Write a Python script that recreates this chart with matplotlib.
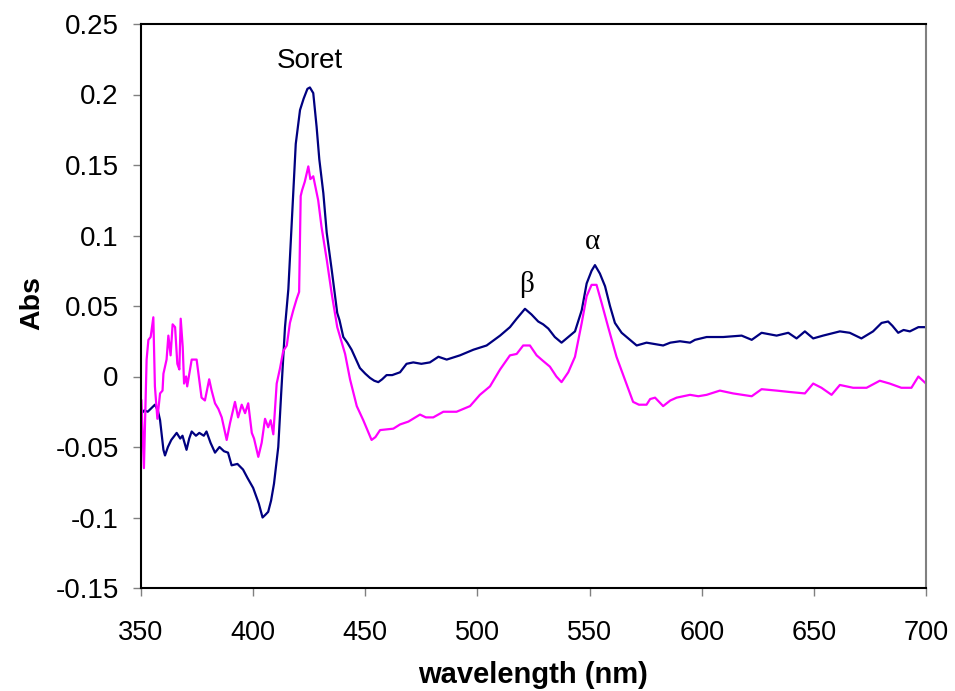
import matplotlib
matplotlib.use("Agg")
import matplotlib.pyplot as plt

navy_x = [350.3, 351.5, 353, 356.2, 357.5, 358.5, 360, 360.7, 362, 363.5, 365.9, 367.5, 368.5, 370.3,
          371.5, 372.6, 374.5, 376, 378, 379.2, 381, 383, 385, 387, 388.8, 390.4, 393, 395.5, 397.5,
          400, 402.5, 404.2, 405.5, 406.7, 408, 409.3, 411.2, 412.5, 414.2, 415.7, 417.9, 419, 420.9,
          422.5, 424.2, 425.3, 426.8, 428.3, 429.5, 431.3, 432.8, 435, 437.5, 438.5, 440.2, 442, 443.9,
          447.6, 450, 452.1, 454, 455.8, 457.5, 459.5, 462, 465.5, 468.4, 471.4, 475, 478.8, 482.6,
          486.3, 492.2, 498.2, 504.1, 510.1, 514.5, 517.5, 521.2, 524.1, 527.1, 529.3, 531.6, 534.5,
          537.5, 540.5, 543.5, 546.5, 548.7, 550.9, 552.4, 554.6, 556.9, 559.1, 561.3, 564.3, 568,
          571, 575.4, 579, 582.8, 586, 590.3, 594.8, 597, 602.2, 609.6, 617.8, 622.3, 626.7, 633.4,
          638.6, 642.3, 646, 649.7, 654.1, 661.6, 666, 671.2, 676.4, 680.2, 683.1, 685, 687.6, 690,
          692.8, 696.6, 700]
navy_y = [-0.026, -0.024, -0.025, -0.020, -0.024, -0.031, -0.052, -0.056, -0.050, -0.045, -0.040, -0.044,
          -0.042, -0.052, -0.044, -0.039, -0.042, -0.040, -0.042, -0.039, -0.047, -0.054, -0.050, -0.053,
          -0.054, -0.063, -0.062, -0.066, -0.072, -0.079, -0.090, -0.100, -0.098, -0.096, -0.088, -0.076,
          -0.050, -0.012, 0.035, 0.062, 0.130, 0.165, 0.189, 0.197, 0.204, 0.205, 0.201, 0.177, 0.154,
          0.130, 0.102, 0.076, 0.045, 0.040, 0.028, 0.024, 0.019, 0.006, 0.002, -0.001, -0.003, -0.004,
          -0.002, 0.001, 0.001, 0.003, 0.009, 0.010, 0.009, 0.010, 0.014, 0.012, 0.015, 0.019, 0.022,
          0.029, 0.035, 0.041, 0.048, 0.044, 0.039, 0.037, 0.034, 0.028, 0.024, 0.028, 0.032, 0.047,
          0.066, 0.075, 0.079, 0.073, 0.064, 0.050, 0.038, 0.031, 0.026, 0.022, 0.024, 0.023, 0.022,
          0.024, 0.025, 0.024, 0.026, 0.028, 0.028, 0.029, 0.026, 0.031, 0.029, 0.031, 0.027, 0.032,
          0.027, 0.029, 0.032, 0.031, 0.027, 0.032, 0.038, 0.039, 0.036, 0.031, 0.033, 0.032, 0.035,
          0.035]

mag_x = [350.2, 351.3, 352.5, 353.3, 354.3, 355.5, 356.2, 357.3, 358.5, 359.6, 360, 361.4, 362.2, 363.2,
         364.1, 365.2, 366.2, 367.1, 367.7, 368.6, 369.2, 370.1, 370.6, 372.6, 374.8, 377, 378.5, 380.4,
         381.5, 383, 384.5, 386, 388.2, 389.7, 391.9, 393.3, 394.9, 396.4, 397.8, 399.4, 400.4, 402.3,
         403.8, 405.3, 406.7, 407.8, 409, 410.5, 412, 413.4, 415, 416.4, 417.9, 419.4, 420.5, 421.2,
         421.8, 423, 424.6, 425.5, 426.8, 429, 430.5, 432.8, 435, 437.5, 441, 443.2, 446.2, 449.1,
         452.8, 454.5, 456.6, 462.5, 465.5, 469.2, 474.4, 477, 480.3, 484.8, 490.7, 496.7, 501.1,
         505.6, 510.1, 514.5, 517.5, 520.4, 523.4, 526.4, 529.3, 532.3, 535.2, 537.5, 540.5, 543.5,
         546.5, 548.7, 550.9, 553.1, 555.4, 558.3, 562, 565.7, 569.4, 572, 575.4, 577, 579.2, 582.8,
         586, 588.8, 594.8, 598.5, 602.2, 608.1, 614, 622.3, 626.7, 633.4, 639.3, 646, 649.7, 653.4,
         657.9, 661.6, 667.5, 673.5, 679.4, 683.8, 689, 693.5, 696.6, 700]
mag_y = [-0.017, -0.065, 0.012, 0.026, 0.028, 0.042, -0.007, -0.030, -0.012, -0.010, 0.002, 0.012, 0.029,
         0.015, 0.037, 0.035, 0.009, 0.005, 0.041, 0.021, -0.005, 0.0, -0.007, 0.012, 0.012, -0.015,
         -0.017, -0.002, -0.010, -0.019, -0.023, -0.029, -0.045, -0.033, -0.018, -0.029, -0.020, -0.026,
         -0.019, -0.040, -0.044, -0.057, -0.047, -0.030, -0.036, -0.031, -0.041, -0.005, 0.006, 0.018,
         0.022, 0.038, 0.047, 0.055, 0.060, 0.128, 0.132, 0.138, 0.149, 0.140, 0.142, 0.125, 0.106,
         0.083, 0.059, 0.035, 0.016, -0.002, -0.021, -0.031, -0.045, -0.043, -0.038, -0.037, -0.034,
         -0.032, -0.027, -0.029, -0.029, -0.025, -0.025, -0.021, -0.013, -0.007, 0.005, 0.015, 0.016,
         0.022, 0.022, 0.015, 0.011, 0.007, 0.0, -0.004, 0.003, 0.014, 0.038, 0.057, 0.065, 0.065,
         0.052, 0.035, 0.014, -0.002, -0.018, -0.020, -0.020, -0.016, -0.015, -0.021, -0.017, -0.015,
         -0.013, -0.014, -0.013, -0.010, -0.012, -0.014, -0.009, -0.010, -0.011, -0.012, -0.005, -0.008,
         -0.013, -0.006, -0.008, -0.008, -0.003, -0.005, -0.008, -0.008, 0.0, -0.005]

x_ticks = [350, 400, 450, 500, 550, 600, 650, 700]
y_ticks = [-0.15, -0.1, -0.05, 0, 0.05, 0.1, 0.15, 0.2, 0.25]
y_tick_labels = ["-0.15", "-0.1", "-0.05", "0", "0.05", "0.1", "0.15", "0.2", "0.25"]

peak_labels = ["Soret", "\u03b2", "\u03b1"]
peak_pos = [(425.3, 0.2235), (522.1, 0.0655), (551.1, 0.0955)]

fig = plt.figure(figsize=(9.55, 6.91), dpi=100)
ax = fig.add_axes([141/955, 1 - 588/691, (926 - 141)/955, (588 - 24)/691])

ax.plot(navy_x, navy_y, color="#000080", lw=1.6)
ax.plot(mag_x, mag_y, color="#FF00FF", lw=1.6)

ax.set_xlim(350, 700)
ax.set_ylim(-0.15, 0.25)
ax.set_xticks(x_ticks)
ax.set_xticklabels([str(t) for t in x_ticks], fontfamily="Liberation Sans", fontsize=19.5)
ax.set_yticks(y_ticks)
ax.set_yticklabels(y_tick_labels, fontfamily="Liberation Sans", fontsize=20)
ax.tick_params(axis="y", direction="out", length=6, width=1, color="#808080", pad=10)
ax.tick_params(axis="x", direction="out", length=6, width=1, color="#808080", pad=17)

for s in ["left", "bottom", "top"]:
    ax.spines[s].set_color("black")
    ax.spines[s].set_linewidth(1.5)
ax.spines["right"].set_color("#808080")
ax.spines["right"].set_linewidth(1.5)

ax.set_xlabel("wavelength (nm)", fontfamily="Liberation Sans", fontweight="bold", fontsize=21)
ax.set_ylabel("Abs", fontfamily="Liberation Sans", fontweight="bold", fontsize=20.5)
ax.xaxis.set_label_coords(0.5, (588 - 675) / 564)
ax.xaxis.label.set_verticalalignment("center")
ax.yaxis.set_label_coords((32 - 141) / 785, (588 - 303) / 564)
ax.yaxis.label.set_verticalalignment("center")

ax.text(peak_pos[0][0], peak_pos[0][1], peak_labels[0], ha="center", va="center",
        fontfamily="Liberation Sans", fontsize=20)
ax.text(peak_pos[1][0], peak_pos[1][1], peak_labels[1], ha="center", va="center",
        fontfamily="Liberation Serif", fontsize=21)
ax.text(peak_pos[2][0], peak_pos[2][1], peak_labels[2], ha="center", va="center",
        fontfamily="Liberation Serif", fontsize=21)

fig.savefig("out.png", dpi=100)
